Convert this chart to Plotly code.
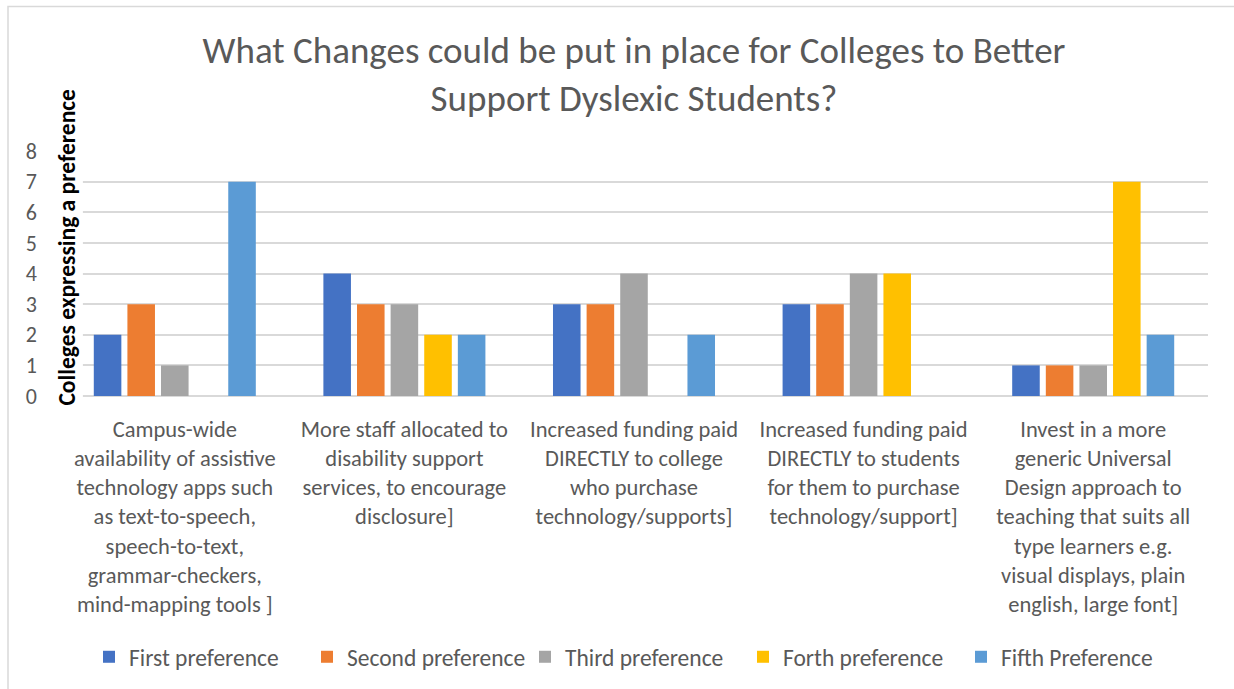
import plotly.graph_objects as go

# Survey categories (wrapped as displayed on the axis)
categories = [
    "Campus-wide<br>availability of assistive<br>technology apps such<br>as text-to-speech,<br>speech-to-text,<br>grammar-checkers,<br>mind-mapping tools ]",
    "More staff allocated to<br>disability support<br>services, to encourage<br>disclosure]",
    "Increased funding paid<br>DIRECTLY to college<br>who purchase<br>technology/supports]",
    "Increased funding paid<br>DIRECTLY to students<br>for them to purchase<br>technology/support]",
    "Invest in a more<br>generic Universal<br>Design approach to<br>teaching that suits all<br>type learners e.g.<br>visual displays, plain<br>english, large font]",
]

series_names = ["First preference", "Second preference", "Third preference",
                "Forth preference", "Fifth Preference"]

first_pref = [2, 4, 3, 3, 1]
second_pref = [3, 3, 3, 3, 1]
third_pref = [1, 3, 4, 4, 1]
forth_pref = [0, 2, 0, 4, 7]
fifth_pref = [7, 2, 2, 0, 2]

series_values = [first_pref, second_pref, third_pref, forth_pref, fifth_pref]
colors = ["#4472C4", "#ED7D31", "#A5A5A5", "#FFC000", "#5B9BD5"]

y_ticks = list(range(0, 9))

W, H = 1234, 689
ML, MR, MT, MB = 60, 26, 151, 292
PW, PH = W - ML - MR, H - MT - MB


def px_x(px):
    return (px - ML) / PW


def px_y(py):
    return (H - MB - py) / PH


FONT = "Carlito, Lato, sans-serif"
GREY = "#595959"

fig = go.Figure()
for name, vals, col in zip(series_names, series_values, colors):
    fig.add_trace(go.Bar(
        name=name, x=categories, y=vals,
        marker=dict(color=col, line=dict(width=0)),
    ))

fig.update_layout(
    width=W, height=H,
    margin=dict(l=ML, r=MR, t=MT, b=MB, pad=0),
    paper_bgcolor="white", plot_bgcolor="white",
    barmode="group", bargap=0.268, bargroupgap=0.18,
    font=dict(family=FONT, color=GREY),
    title=dict(
        text="What Changes could be put in place for Colleges to Better<br>Support Dyslexic Students?",
        x=0.5, xref="paper", xanchor="center",
        y=1 - 63 / H, yanchor="middle",
        font=dict(family=FONT, size=37, color=GREY),
    ),
    showlegend=True,
    legend=dict(
        orientation="h", x=0.5, xanchor="center",
        y=px_y(657), yanchor="middle",
        font=dict(family=FONT, size=23.5, color=GREY),
        itemwidth=30, tracegroupgap=0,
        entrywidth=173, entrywidthmode="pixels",
    ),
)

fig.update_xaxes(
    showgrid=False, showline=False, zeroline=False,
    tickfont=dict(family=FONT, size=22.5, color=GREY),
    ticks="", ticklabelstandoff=17, tickangle=0,
)
fig.update_yaxes(
    range=[0, 8], tickvals=y_ticks, showgrid=True,
    gridcolor="#D9D9D9", gridwidth=1.5,
    zeroline=True, zerolinecolor="#D9D9D9", zerolinewidth=1.5,
    showline=False, ticks="", ticklabelstandoff=22,
    tickfont=dict(family=FONT, size=22, color=GREY),
)

# vertical axis title with white fill over the grid ends
fig.add_annotation(
    text="<b>Colleges expressing a preference</b>",
    xref="paper", yref="paper", x=px_x(67), y=px_y(248),
    xanchor="center", yanchor="middle", textangle=-90, showarrow=False,
    bgcolor="white", borderpad=1,
    font=dict(family=FONT, size=23.5, color="black"),
)

# outer chart border
fig.add_shape(
    type="rect", xref="paper", yref="paper", layer="above",
    x0=px_x(8), x1=px_x(W + 20), y0=px_y(H + 20), y1=px_y(6),
    line=dict(color="#D9D9D9", width=1.5), fillcolor="rgba(0,0,0,0)",
)

fig.write_html("out.html")
